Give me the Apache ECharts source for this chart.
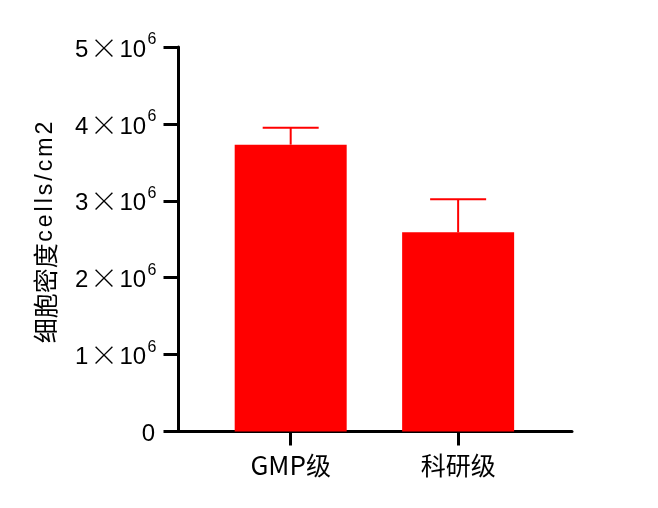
<!DOCTYPE html>
<html>
<head>
<meta charset="utf-8">
<script src="https://cdn.jsdelivr.net/npm/echarts@6/dist/echarts.min.js"></script>
<style>html,body{margin:0;padding:0;background:#fff;}#c{width:658px;height:508px;}</style>
</head>
<body>
<div id="c"></div>
<script>
const categories = ['GMP级', '科研级'];
const means = [3.73e6, 2.59e6];
const errors = [0.22e6, 0.43e6];
const yTicks = [0, 1e6, 2e6, 3e6, 4e6, 5e6];
const yTitleCJK = '细胞密度';
const yTitleLatin = 'cells/cm2';

const xPos = categories.map((c, i) => i + 1);
const barData = categories.map((c, i) => [xPos[i], means[i]]);
const errData = categories.map((c, i) => [xPos[i], means[i], means[i] + errors[i]]);

const titleStr = '{k|' + yTitleCJK + '}' + yTitleLatin.split('').map(ch => '{c|' + ch + '}').join('');

const chart = echarts.init(document.getElementById('c'));
chart.setOption({
  animation: false,
  backgroundColor: '#ffffff',
  grid: { left: 178.5, right: 86, top: 47, bottom: 76.5 },
  xAxis: {
    type: 'value',
    min: 0.33,
    max: 2.68,
    splitLine: { show: false },
    axisLine: { show: true, onZero: false, lineStyle: { color: '#000', width: 3 } },
    axisTick: { show: true, customValues: xPos, length: 14, lineStyle: { color: '#000', width: 3 } },
    axisLabel: {
      customValues: xPos,
      margin: 21,
      formatter: v => {
        const s = categories[Math.round(v) - 1] || '';
        return s.replace(/^([A-Za-z]+)/, '{l|$1}');
      },
      color: '#000',
      fontSize: 25,
      fontFamily: 'Noto Sans CJK SC',
      rich: {
        l: { fontSize: 26, fontFamily: 'Liberation Sans Narrow, Noto Sans CJK SC', color: '#000' }
      }
    }
  },
  yAxis: {
    type: 'value',
    min: 0,
    max: 5e6,
    interval: 1e6,
    splitLine: { show: false },
    axisLine: { show: true, onZero: false, lineStyle: { color: '#000', width: 3 } },
    axisTick: { show: true, length: 15, lineStyle: { color: '#000', width: 3 } },
    axisLabel: {
      margin: 22,
      color: '#000',
      formatter: v => {
        if (v === 0) return '{d|0}';
        return '{d|' + (v / 1e6) + '}{x|×}{d|10}{s|6}';
      },
      rich: {
        d: { fontSize: 24, fontFamily: 'Liberation Sans', color: '#000', lineHeight: 30, verticalAlign: 'bottom', padding: [0, 1.5, 0, 1.5] },
        x: { fontSize: 28, fontFamily: 'Noto Sans CJK SC', fontWeight: 300, color: '#000', lineHeight: 30, verticalAlign: 'bottom' },
        s: { fontSize: 16, fontFamily: 'Liberation Sans', color: '#000', lineHeight: 21, verticalAlign: 'top' }
      }
    },
    name: titleStr,
    nameLocation: 'middle',
    nameRotate: 90,
    nameGap: 120,
    nameTextStyle: {
      padding: [0, 0, 0, 15],
      rich: {
        k: { fontSize: 25, fontFamily: 'Noto Sans CJK SC', color: '#000' },
        c: { fontSize: 23, fontFamily: 'Liberation Sans', color: '#000', padding: [0, 1.5, 0, 1.5] }
      }
    }
  },
  series: [
    {
      type: 'bar',
      data: barData,
      barWidth: 112,
      itemStyle: { color: '#ff0000' }
    },
    {
      type: 'custom',
      data: errData,
      z: 1,
      renderItem: (params, api) => {
        const x = api.value(0), m = api.value(1), hi = api.value(2);
        const p0 = api.coord([x, m]);
        const p1 = api.coord([x, hi]);
        const st = { stroke: '#ff0000', lineWidth: 2 };
        return {
          type: 'group',
          children: [
            { type: 'line', shape: { x1: p0[0], y1: p0[1], x2: p1[0], y2: p1[1] }, style: st },
            { type: 'line', shape: { x1: p1[0] - 28, y1: p1[1], x2: p1[0] + 28, y2: p1[1] }, style: st }
          ]
        };
      }
    }
  ]
});
</script>
</body>
</html>
